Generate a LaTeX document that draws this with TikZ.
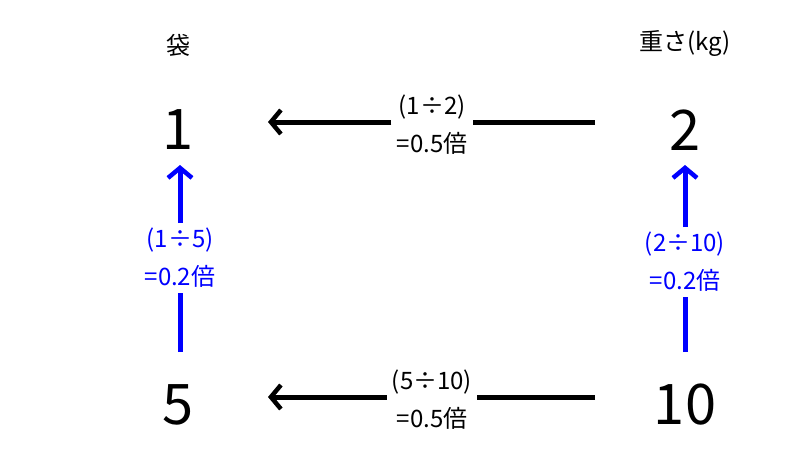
\documentclass[tikz,border=0pt]{standalone}
\usepackage{fontspec}
\setmainfont{Noto Sans CJK JP}
\usetikzlibrary{arrows.meta,positioning}
\tikzset{
  num/.style={font=\fontsize{56}{56}\selectfont},
  head/.style={font=\fontsize{24}{24}\selectfont},
  rate/.style={font=\fontsize{24}{38}\selectfont,align=center,inner sep=5pt},
  conv/.style={line width=5pt,-{Straight Barb[length=10pt,width=24pt,line width=4.5pt]}},
}
\begin{document}
\begin{tikzpicture}[x=1pt,y=-1pt]
  \useasboundingbox (0,0) rectangle (800,450);
  \node[head] (bag) at (178,45) {袋};
  \node[head] (kg) at (685,43) {重さ(kg)};
  \node[num] (n1) at (178,130) {1};
  \node[num] (n2) at (685,130) {2};
  \node[num] (n5) at (178,405) {5};
  \node[num] (n10) at (685,405) {10};
  % rates
  \node[rate] (top) at (432,125) {(1÷2)\\=0.5倍};
  \node[rate] (bot) at (432,400) {(5÷10)\\=0.5倍};
  \node[rate,blue] (left) at (180,258) {(1÷5)\\=0.2倍};
  \node[rate,blue] (right) at (685,262) {(2÷10)\\=0.2倍};
  % connectors
  \coordinate (ts) at (595,122); \coordinate (te) at (268,122);
  \coordinate (bs) at (595,397); \coordinate (be) at (268,397);
  \coordinate (ls) at (180,352); \coordinate (le) at (180,165);
  \coordinate (rs) at (685,352); \coordinate (re) at (685,165);
  \draw[line width=5pt] (ts) -- (top.east |- ts);
  \draw[conv] (top.west |- te) -- (te);
  \draw[line width=5pt] (bs) -- (bot.east |- bs);
  \draw[conv] (bot.west |- be) -- (be);
  \draw[line width=5pt,blue] (ls) -- (left.south);
  \draw[conv,blue] (left.north) -- (le);
  \draw[line width=5pt,blue] (rs) -- (right.south);
  \draw[conv,blue] (right.north) -- (re);
\end{tikzpicture}
\end{document}
